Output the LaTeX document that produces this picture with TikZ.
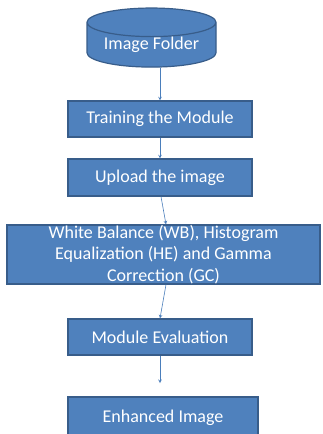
\documentclass[tikz,border=0pt]{standalone}
\usepackage{fontspec}
\setmainfont{Carlito}
\usepackage{tikz}
\usetikzlibrary{arrows,positioning,shapes}

\definecolor{boxblue}{HTML}{4F81BD}
\definecolor{boxline}{HTML}{385D8A}
\definecolor{arrowblue}{HTML}{4A7EBB}

\tikzset{
	stepbox/.style={draw=boxline, line width=1.2pt, fill=boxblue, text=white,
		font=\fontsize{18}{21.5}\selectfont, inner sep=0pt, align=center},
	flow/.style={draw=arrowblue, line width=0.6pt, -stealth}
}

\begin{document}
\begin{tikzpicture}[x=1pt,y=-1pt]
	\useasboundingbox (0,0) rectangle (322,434);
	\fill[white] (0,0) rectangle (322,434);

	\node[stepbox, cylinder, shape border rotate=90, aspect=0.3,
		minimum width=129pt, minimum height=51pt]	(img) at (151.5,45) {Image Folder};
	\node[stepbox, minimum width=184pt, minimum height=36pt]	(train) at (160,119) {Training the Module};
	\node[stepbox, minimum width=184pt, minimum height=37pt]	(upload) at (160,177.5) {Upload the image};
	\node[stepbox, minimum width=313pt, minimum height=59pt]	(wb) at (163.5,254.5)
		{White Balance (WB), Histogram\\Equalization (HE) and Gamma\\Correction (GC)};
	\node[stepbox, minimum width=184pt, minimum height=36pt]	(eval) at (160,337) {Module Evaluation};
	\node[stepbox, minimum width=190pt, minimum height=42pt]	(enh) at (163,418) {Enhanced Image};

	\coordinate (stop) at (160,383); % arrow ends short of the last box

	\draw[flow] (train.north |- img.south) -- (train.north);
	\draw[flow] (train) -- (upload);
	\draw[flow] ([xshift=1pt]upload.south) -- ([xshift=2.5pt]wb.north);
	\draw[flow] ([xshift=2.5pt]wb.south) -- (eval.north);
	\draw[flow] (eval) -- (stop);
\end{tikzpicture}
\end{document}
